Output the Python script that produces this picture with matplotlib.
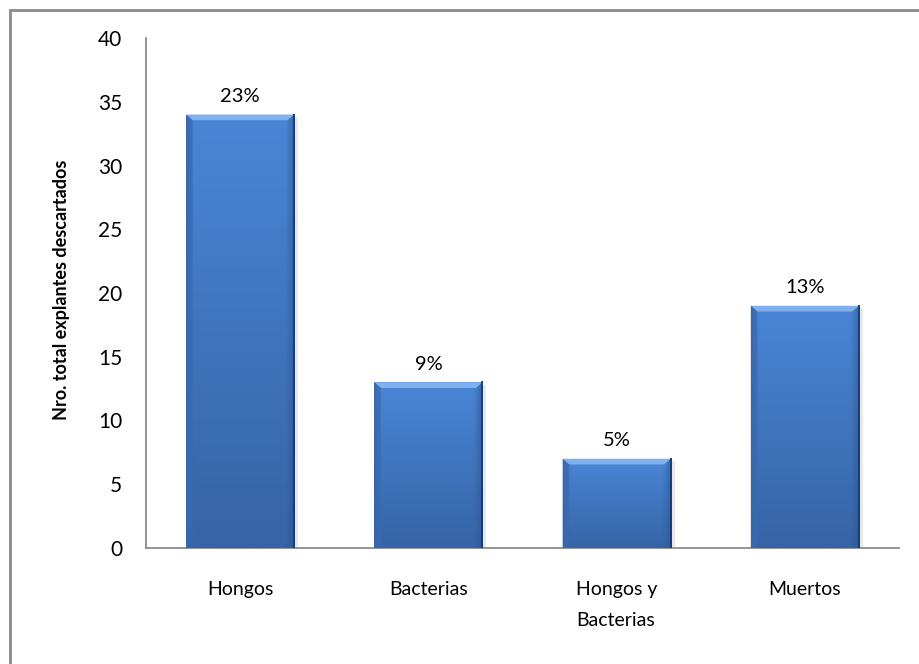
import numpy as np
import matplotlib.pyplot as plt
from matplotlib.patches import Rectangle, Polygon
from matplotlib.colors import to_rgb

categorias = ['Hongos', 'Bacterias', 'Hongos y\nBacterias', 'Muertos']
valores = [34, 13, 7, 19]
porcentajes = ['23%', '9%', '5%', '13%']
yticks = [0, 5, 10, 15, 20, 25, 30, 35, 40]

plt.rcParams['font.family'] = ['Lato', 'DejaVu Sans']

W, H = 919, 664
fig = plt.figure(figsize=(W / 100, H / 100), dpi=100)
ax = fig.add_axes([146 / W, 1 - 548 / H, (899 - 146) / W, (548 - 38) / H])

x = np.arange(len(valores))
bars = ax.bar(x, valores, width=0.575, color='#4178C3', zorder=2)

ax.set_xlim(-0.5, 3.5)
ax.set_ylim(0, 40)
ax.set_yticks(yticks)
ax.set_xticks(x)
ax.tick_params(axis='y', length=0, pad=17, labelsize=15)
ax.tick_params(axis='x', length=0, pad=24, labelsize=14)
ax.set_xticklabels(categorias, fontsize=14, linespacing=2.0, va='top',
                   multialignment='left')
for s in ['top', 'right']:
    ax.spines[s].set_visible(False)
for s in ['left', 'bottom']:
    ax.spines[s].set_color('#8c8c8c')
    ax.spines[s].set_linewidth(1.3)

# shaded bar face: lighter near the top, darker toward the bottom and the sides
top_c = np.array(to_rgb('#4A86D6'))
bot_c = np.array(to_rgb('#3664A6'))
edge_c = np.array(to_rgb('#2C5491'))
ny, nx = 200, 60
ty = np.linspace(0, 1, ny)[:, None]
tx = np.linspace(0, 1, nx)[None, :]
side = np.clip(np.maximum(1 - tx / 0.06, (tx - 0.92) / 0.08), 0, 1)
for b in bars:
    x0, w, h = b.get_x(), b.get_width(), b.get_height()
    face = top_c * (1 - ty[..., None]) + bot_c * ty[..., None]
    face = face * (1 - side[..., None] * 0.6) + edge_c * side[..., None] * 0.6
    face = np.broadcast_to(face, (ny, nx, 3))
    im = ax.imshow(face, extent=[x0, x0 + w, 0, h], aspect='auto',
                   origin='upper', zorder=3, interpolation='bilinear')
    im.set_clip_path(b)
    # bevel at the top
    by = 0.45
    bx = 0.035
    ax.add_patch(Polygon([[x0, h], [x0 + w, h], [x0 + w - bx, h - by], [x0 + bx, h - by]],
                         closed=True, facecolor='#7FB1EE', edgecolor='none', zorder=4))
    ax.add_patch(Polygon([[x0, h], [x0 + bx, h - by], [x0 + bx, 0], [x0, 0]],
                         closed=True, facecolor='#3A6CB3', edgecolor='none', zorder=4, alpha=0.7))
    ax.plot([x0 + w, x0 + w], [0, h], color='#1F3D6B', lw=1.4, zorder=5)
    # soft shadow on the right
    ax.add_patch(Rectangle((x0 + w, 0), 0.02, h - 0.2, facecolor='#d9d9d9',
                           edgecolor='none', zorder=1, alpha=0.6))

for b, txt in zip(bars, porcentajes):
    ax.annotate(txt, (b.get_x() + b.get_width() / 2, b.get_height()),
                xytext=(0, 7), textcoords='offset points', ha='center',
                va='bottom', fontsize=14.5, zorder=6)

fig.text(62 / W, 1 - 290 / H, 'Nro. total explantes descartados', rotation=90,
         ha='center', va='center', fontsize=13, fontweight='bold')

fig.patches.append(Rectangle((9.5 / W, -0.1), 2, 1.1 - 9.5 / H, transform=fig.transFigure,
                             fill=False, edgecolor='#8a8a8a', linewidth=2, zorder=0))

fig.savefig('out.png', dpi=100)
